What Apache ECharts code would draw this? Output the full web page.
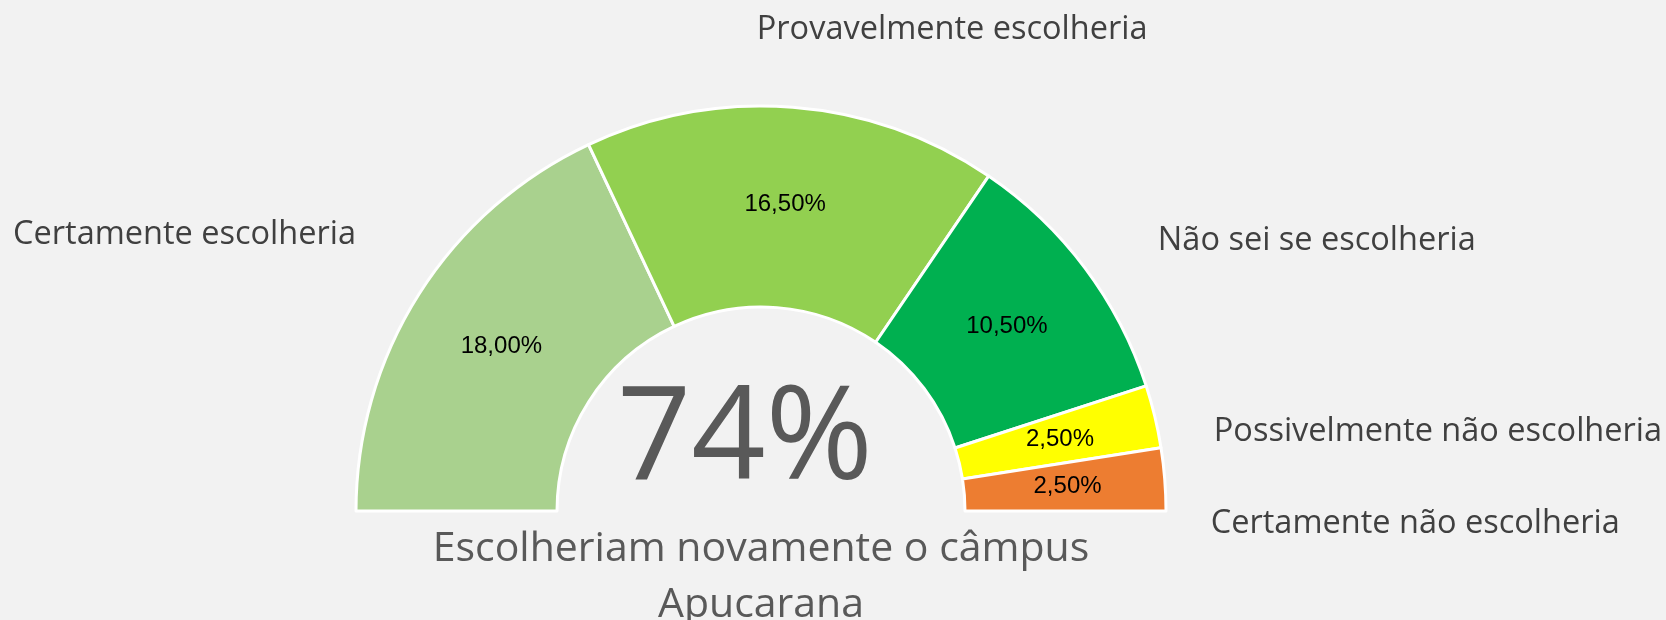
<!DOCTYPE html>
<html>
<head>
<meta charset="utf-8">
<script src="https://cdn.jsdelivr.net/npm/echarts@6/dist/echarts.min.js"></script>
<style>
	html, body { margin: 0; padding: 0; background: #f2f2f2; }
	#gauge { width: 1666px; height: 620px; }
</style>
</head>
<body>
<div id="gauge"></div>
<script>
	// dados
	const categories = ['Certamente escolheria', 'Provavelmente escolheria', 'Não sei se escolheria', 'Possivelmente não escolheria', 'Certamente não escolheria']
	const shares = [18.0, 16.5, 10.5, 2.5, 2.5]
	const hiddenHalf = 50
	const headline = '74%'
	const caption = 'Escolheriam novamente o câmpus\nApucarana'

	const colors = ['#a9d18e', '#92d050', '#00b050', '#ffff00', '#ed7d31']
	// deslocamento dos rótulos de categoria (como no Excel)
	const nudge = [[-58, -59], [-41, -78], [68, -27], [54, 15], [41, 45]]

	const center = ['761px', '511px']
	const radius = [204, 405]
	const txt = '#595959'

	let chart = echarts.init(document.getElementById('gauge'))

	function pieData(withColor) {
		let d = categories.map((name, i) => ({
			name: name,
			value: shares[i],
			itemStyle: withColor ? { color: colors[i] } : { color: 'rgba(0,0,0,0)', borderWidth: 0 }
		}))
		d.push({
			name: '',
			value: hiddenHalf,
			itemStyle: { color: 'rgba(0,0,0,0)', borderWidth: 0 },
			label: { show: false },
			labelLine: { show: false },
			emphasis: { disabled: true }
		})
		return d
	}

	chart.setOption({
		backgroundColor: '#f2f2f2',
		animation: false,
		series: [
			{
				type: 'pie',
				center: center,
				radius: radius,
				startAngle: 180,
				avoidLabelOverlap: false,
				itemStyle: { borderColor: '#ffffff', borderWidth: 3 },
				label: {
					show: true,
					position: 'inside',
					color: '#000000',
					fontFamily: 'Liberation Sans',
					fontSize: 24,
					formatter: p => p.value.toFixed(2).replace('.', ',') + '%'
				},
				data: pieData(true)
			},
			{
				type: 'pie',
				center: center,
				radius: radius,
				startAngle: 180,
				silent: true,
				avoidLabelOverlap: false,
				label: {
					show: true,
					position: 'outside',
					color: '#404040',
					fontFamily: 'Open Sans',
					fontSize: 32.5,
					formatter: '{b}'
				},
				labelLine: { show: false, length: 0, length2: 0 },
				labelLayout: p => ({ dx: nudge[p.dataIndex] ? nudge[p.dataIndex][0] : 0, dy: nudge[p.dataIndex] ? nudge[p.dataIndex][1] : 0 }),
				data: pieData(false)
			}
		],
		graphic: [
			{
				type: 'text',
				x: 745,
				y: 442,
				style: {
					text: headline,
					fill: txt,
					font: '130px "Open Sans"',
					textAlign: 'center',
					textVerticalAlign: 'middle'
				}
			},
			{
				type: 'text',
				x: 761,
				y: 521,
				style: {
					text: caption,
					fill: txt,
					font: '41px "Open Sans"',
					lineHeight: 56,
					textAlign: 'center',
					textVerticalAlign: 'top'
				}
			}
		]
	})
</script>
</body>
</html>
